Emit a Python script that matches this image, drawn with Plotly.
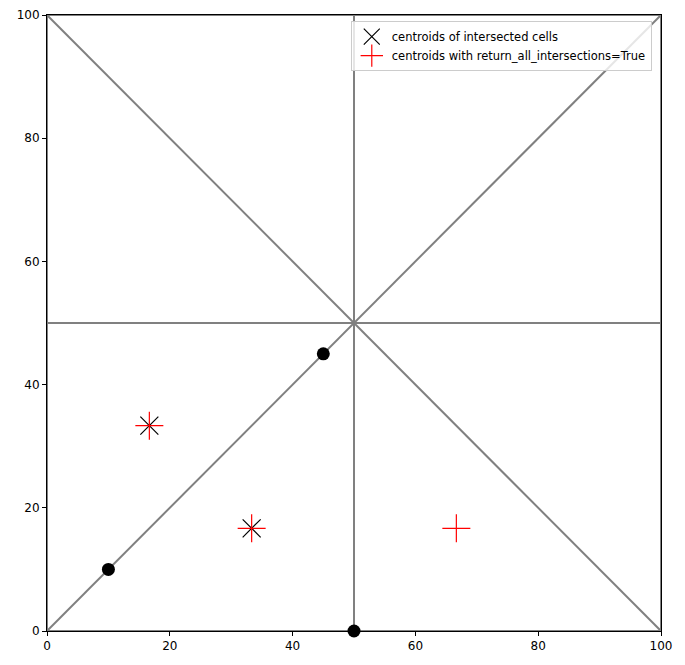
import plotly.graph_objects as go

# mesh edges (segments)
seg_x = [0, 100, None, 0, 100, None, 50, 50, None, 0, 100, None, 0, 100, None, 0, 0, None, 100, 100, None, 0, 100, None]
seg_y = [0, 100, None, 100, 0, None, 0, 100, None, 50, 50, None, 0, 0, None, 0, 100, None, 0, 100, None, 100, 100, None]

pts_x = [10, 45, 50]
pts_y = [10, 45, 0]

cent_x = [16.67, 33.33]
cent_y = [33.33, 16.67]

all_x = [16.67, 33.33, 66.67]
all_y = [33.33, 16.67, 16.67]

fig = go.Figure()
fig.add_trace(go.Scatter(x=seg_x, y=seg_y, mode="lines", line=dict(color="gray", width=2), showlegend=False, hoverinfo="skip"))
fig.add_trace(go.Scatter(x=pts_x, y=pts_y, mode="markers", marker=dict(color="black", size=13), showlegend=False, cliponaxis=False))
fig.add_trace(go.Scatter(x=cent_x, y=cent_y, mode="markers", name="centroids of intersected cells",
                         marker=dict(symbol="x-thin", size=18, line=dict(color="black", width=1.2))))
fig.add_trace(go.Scatter(x=all_x, y=all_y, mode="markers", name="centroids with return_all_intersections=True",
                         marker=dict(symbol="cross-thin", size=20, line=dict(color="red", width=1.2))))

ax = dict(range=[0, 100], showgrid=False, zeroline=False, showline=True, mirror=True, linecolor="black",
          ticks="outside", ticklen=4, tickcolor="black", tickvals=[0, 20, 40, 60, 80, 100], automargin=False)
fig.update_layout(
    width=685, height=665, margin=dict(l=39, r=32, t=7, b=42),
    plot_bgcolor="white", paper_bgcolor="white",
    font=dict(family="DejaVu Sans", size=12, color="black"),
    xaxis=ax, yaxis=ax,
    legend=dict(x=0.985, y=0.99, xanchor="right", yanchor="top", bordercolor="#cccccc", borderwidth=1,
                bgcolor="rgba(255,255,255,0.8)", font=dict(size=11.5)),
)
fig.write_html("out.html")
